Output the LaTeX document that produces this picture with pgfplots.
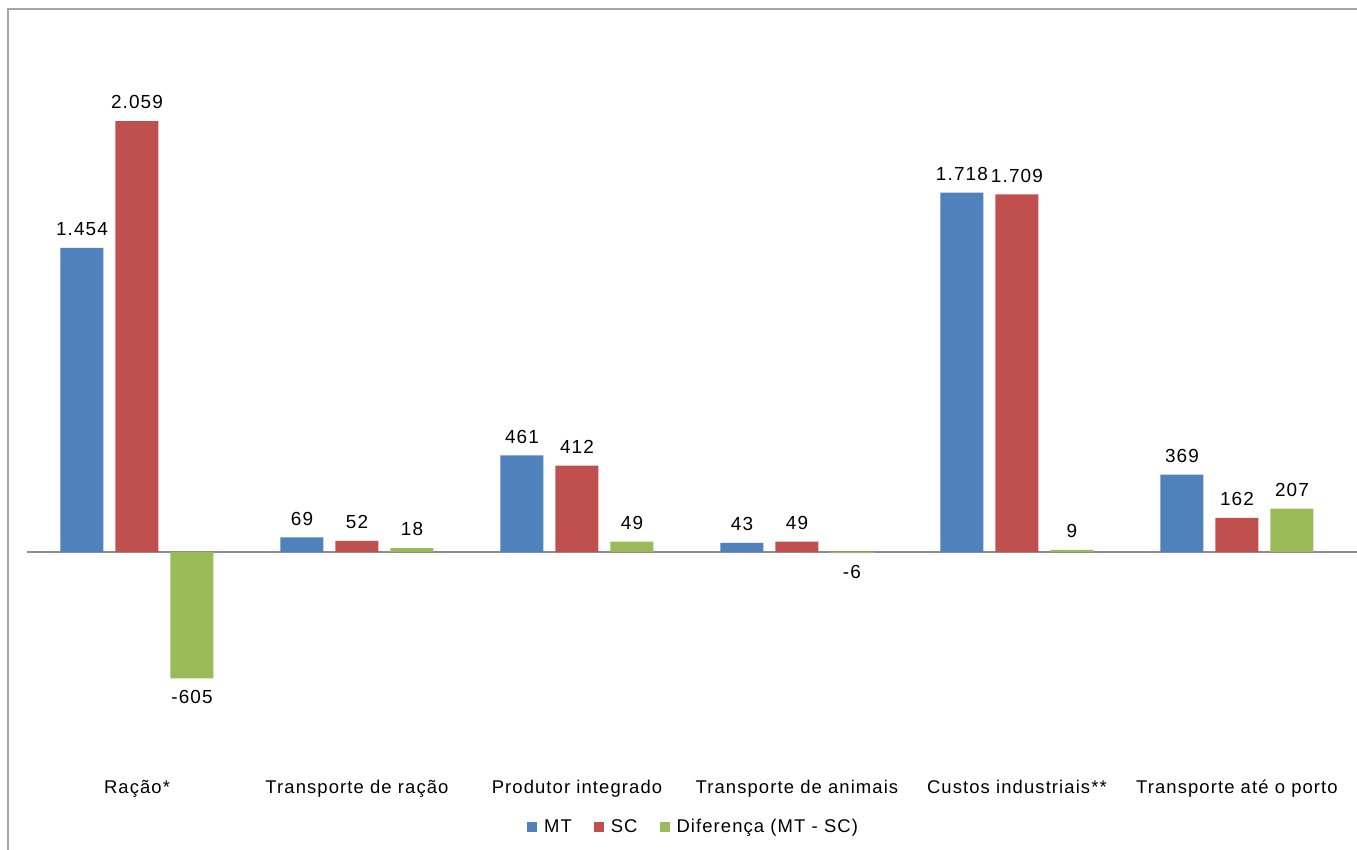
\documentclass[border=0pt]{standalone}
\usepackage{fontspec}
\setmainfont[LetterSpace=6]{Liberation Sans}
\usepackage{pgfplots}
\pgfplotsset{compat=1.18}
\definecolor{cMT}{HTML}{4F81BD}
\definecolor{cSC}{HTML}{C0504D}
\definecolor{cDF}{HTML}{9BBB59}
\definecolor{frame}{HTML}{A6A6A6}
\definecolor{zero}{HTML}{8C8C8C}
\begin{document}
\begin{tikzpicture}
\useasboundingbox (0,0) rectangle (1357bp,850bp);
\draw[frame, line width=1.5bp] (8bp,0) -- (8bp,841bp) -- (1357bp,841bp);
\begin{axis}[
  at={(27bp,89bp)}, anchor=south west,
  scale only axis, width=1320bp, height=732bp,
  xmin=-0.5, xmax=5.5, ymin=-1000, ymax=2500,
  axis line style={draw=none},
  hide y axis,
  ybar=12bp, bar width=43bp,
  xtick={0,...,5},
  xticklabels={Ração*, Transporte de ração, Produtor integrado, Transporte de animais, Custos industriais**, Transporte até o porto},
  major tick length=0pt,
  xticklabel style={font=\fontsize{18.5}{20}\selectfont, yshift=-16bp, text depth=0pt, text height=13bp},
  point meta=y,
  nodes near coords={\pgfmathprintnumber{\pgfplotspointmeta}},
  nodes near coords align={vertical},
  /pgf/number format/.cd, fixed, precision=0, 1000 sep={.}, assume math mode=true,
  /pgfplots/.cd,
  every node near coord/.append style={font=\fontsize{19}{20}\selectfont, black, inner sep=12bp},
  legend style={at={(0.505,-0.0902)}, anchor=center, draw=none, legend columns=3,
    font=\fontsize{18.5}{20}\selectfont,
    /tikz/every even column/.append style={column sep=20bp}},
  legend image code/.code={\fill[#1] (0bp,-5bp) rectangle (10bp,5bp); \path (15bp,0);},
  clip=false,
]
\draw[zero, line width=1.5bp] (axis cs:-0.5,0) -- (axis cs:5.55,0);
\addplot[fill=cMT, draw=none] coordinates {
(0,1454)
(1,69)
(2,461)
(3,43)
(4,1718)
(5,369)
};
\addplot[fill=cSC, draw=none] coordinates {
(0,2059)
(1,52)
(2,412)
(3,49)
(4,1709)
(5,162)
};
\addplot[fill=cDF, draw=none] coordinates {
(0,-605)
(1,18)
(2,49)
(3,-6)
(4,9)
(5,207)
};
\legend{MT, SC, Diferença (MT - SC)}
\end{axis}
\end{tikzpicture}
\end{document}
